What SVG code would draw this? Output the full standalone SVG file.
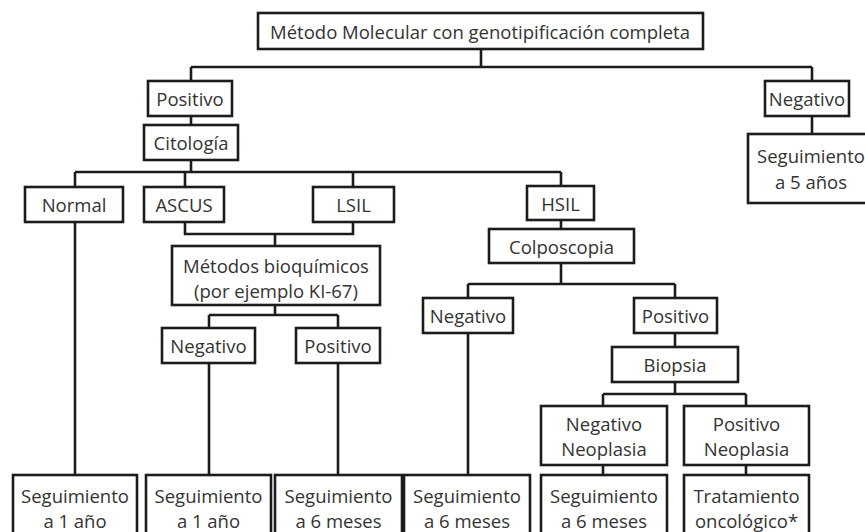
<svg xmlns="http://www.w3.org/2000/svg" width="865" height="532" viewBox="0 0 865 532">
<style>
.b{fill:#fff;stroke:#1c1c1c;stroke-width:2.6}
.c{fill:none;stroke:#1c1c1c;stroke-width:2.6}
text{font-family:"Open Sans","Noto Sans",sans-serif;font-size:18.5px;fill:#333;text-anchor:middle;dominant-baseline:central}
</style>
<rect width="865" height="532" fill="#fff"/>
<g id="connectors" class="c">
<path d="M481,49V67M191,67H812M191,67V81M812,67V81M812,116V134M191,116V125M191,160V172"/>
<path d="M75,172H561M75,172V187M185,172V187M353,172V187M561,172V186"/>
<path d="M185,222V234H353V222M275,234V246"/>
<path d="M275,305V315M209,315H338M209,315V328M338,315V328"/>
<path d="M75,222V475M209,363V475M338,363V475"/>
<path d="M561,219V229M561,263V284M468,284H675M468,284V298M675,284V298"/>
<path d="M468,333V475M675,333V347M675,382V394M603,394H746M603,394V406M746,394V406M603,465V475M746,465V475"/>
</g>
<g id="n_top"><rect class="b" x="258" y="13" width="445" height="36"/><text x="480" y="31">Método Molecular con genotipificación completa</text></g>
<g id="n_pos"><rect class="b" x="148" y="81" width="84" height="35"/><text x="190" y="98.5">Positivo</text></g>
<g id="n_neg"><rect class="b" x="765" y="81" width="84" height="35"/><text x="807" y="98.5">Negativo</text></g>
<g id="n_seg5"><rect class="b" x="748" y="134" width="130" height="69"/><text x="811" y="155">Seguimiento</text><text x="811" y="181">a 5 años</text></g>
<g id="n_cito"><rect class="b" x="144" y="125" width="94" height="35"/><text x="191" y="142.5">Citología</text></g>
<g id="n_normal"><rect class="b" x="25" y="187" width="98" height="35"/><text x="74" y="204.5">Normal</text></g>
<g id="n_ascus"><rect class="b" x="144" y="187" width="80" height="35"/><text x="184" y="204.5">ASCUS</text></g>
<g id="n_lsil"><rect class="b" x="313" y="187" width="81" height="35"/><text x="353.5" y="204.5">LSIL</text></g>
<g id="n_hsil"><rect class="b" x="527" y="186" width="67" height="34"/><text x="560.5" y="203">HSIL</text></g>
<g id="n_metodos"><rect class="b" x="172" y="246" width="208" height="59"/><text x="276" y="265">Métodos bioquímicos</text><text x="276" y="290">(por ejemplo KI-67)</text></g>
<g id="n_neg1"><rect class="b" x="162" y="328" width="93" height="35"/><text x="208.5" y="345.5">Negativo</text></g>
<g id="n_pos1"><rect class="b" x="296" y="328" width="84" height="35"/><text x="338" y="345.5">Positivo</text></g>
<g id="n_colpo"><rect class="b" x="489" y="229" width="145" height="34"/><text x="561.5" y="246">Colposcopia</text></g>
<g id="n_neg2"><rect class="b" x="423" y="298" width="90" height="35"/><text x="468" y="315.5">Negativo</text></g>
<g id="n_pos2"><rect class="b" x="634" y="298" width="83" height="35"/><text x="675.5" y="315.5">Positivo</text></g>
<g id="n_biopsia"><rect class="b" x="612" y="347" width="126" height="35"/><text x="675" y="364.5">Biopsia</text></g>
<g id="n_negneo"><rect class="b" x="541" y="406" width="126" height="59"/><text x="604" y="423">Negativo</text><text x="604" y="448">Neoplasia</text></g>
<g id="n_posneo"><rect class="b" x="684" y="406" width="125" height="59"/><text x="746.5" y="423">Positivo</text><text x="746.5" y="448">Neoplasia</text></g>
<g id="n_b1"><rect class="b" x="13" y="475" width="124" height="70"/><text x="75" y="495">Seguimiento</text><text x="75" y="520">a 1 año</text></g>
<g id="n_b2"><rect class="b" x="146" y="475" width="125" height="70"/><text x="208.5" y="495">Seguimiento</text><text x="208.5" y="520">a 1 año</text></g>
<g id="n_b3"><rect class="b" x="275" y="475" width="127" height="70"/><text x="338.5" y="495">Seguimiento</text><text x="338.5" y="520">a 6 meses</text></g>
<g id="n_b4"><rect class="b" x="404" y="475" width="126" height="70"/><text x="467" y="495">Seguimiento</text><text x="467" y="520">a 6 meses</text></g>
<g id="n_b5"><rect class="b" x="541" y="475" width="126" height="70"/><text x="604" y="495">Seguimiento</text><text x="604" y="520">a 6 meses</text></g>
<g id="n_b6"><rect class="b" x="684" y="475" width="125" height="70"/><text x="746.5" y="495">Tratamiento</text><text x="746.5" y="520">oncológico*</text></g>
</svg>
